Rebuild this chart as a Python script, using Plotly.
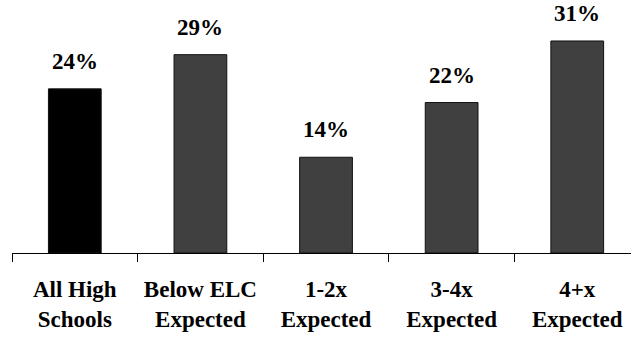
import plotly.graph_objects as go

# Share of students by school group
categories = ["All High<br>Schools", "Below ELC<br>Expected", "1-2x<br>Expected",
              "3-4x<br>Expected", "4+x<br>Expected"]
values = [24, 29, 14, 22, 31]
value_labels = ["24%", "29%", "14%", "22%", "31%"]
bar_colors = ["#000000", "#404040", "#404040", "#404040", "#404040"]

FONT = dict(family="'Liberation Serif', 'Times New Roman', Times, serif", size=23,
            color="#000000", weight="bold")

fig = go.Figure()
fig.add_trace(go.Bar(
    x=categories,
    y=values,
    width=0.42,
    marker=dict(color=bar_colors, line=dict(color="#111111", width=1)),
    hoverinfo="skip",
))

# Value labels above each bar
for cat, val, lab in zip(categories, values, value_labels):
    fig.add_annotation(x=cat, y=val, text=lab, showarrow=False,
                       yanchor="bottom", yshift=13, font=FONT)

fig.update_layout(
    width=631, height=337,
    margin=dict(l=12, r=0, t=10, b=84),
    paper_bgcolor="white", plot_bgcolor="white",
    showlegend=False,
    bargap=0.58,
)
fig.update_xaxes(
    type="category",
    range=[-0.5, 4.428],
    showline=True, linecolor="#000000", linewidth=1,
    ticks="outside", tickson="boundaries", ticklen=8, tickcolor="#000000",
    tickwidth=1,
    tickfont=FONT,
    ticklabelstandoff=15,
    showgrid=False, zeroline=False,
)
fig.update_yaxes(
    range=[0, 35.53],
    visible=False, showgrid=False, zeroline=False,
)

fig.write_html("out.html")
